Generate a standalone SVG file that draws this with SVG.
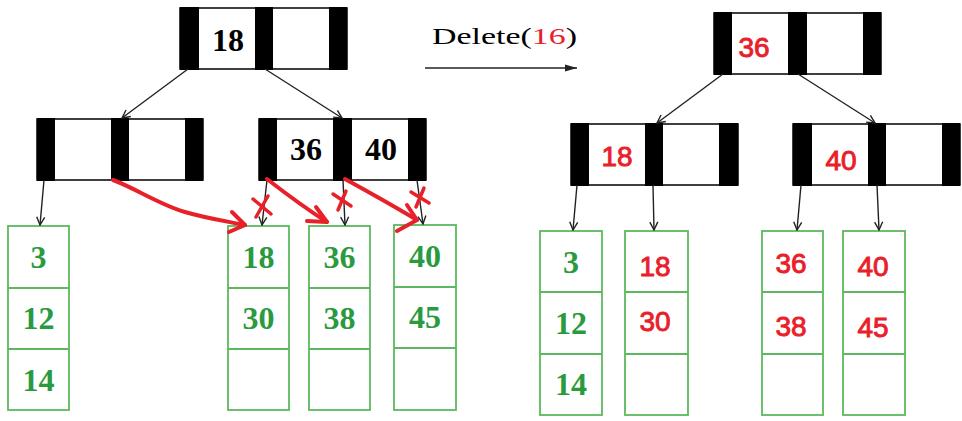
<svg xmlns="http://www.w3.org/2000/svg" width="962" height="421" viewBox="0 0 962 421">
<defs>
<style>
.nbox{fill:#fff;stroke:#000;stroke-width:1.5}
.bar{fill:#000}
.leaf{fill:#fff;stroke:#5cb85c;stroke-width:1.8}
.sep{stroke:#5cb85c;stroke-width:1.8}
.kb{font-family:"Liberation Serif","Times New Roman",serif;font-weight:bold;font-size:32px;fill:#000;text-anchor:middle}
.kg{font-family:"Liberation Serif","Times New Roman",serif;font-weight:bold;font-size:32px;fill:#2a9a40;text-anchor:middle}
.kr{font-family:"Liberation Sans",Arial,sans-serif;font-size:28px;fill:#e8202a;stroke:#e8202a;stroke-width:0.9;text-anchor:middle}
.edge{stroke:#222;stroke-width:1.4;fill:none}
.red{stroke:#e8202a;stroke-width:4;fill:none;stroke-linecap:round;stroke-linejoin:round}
.redx{stroke:#e8202a;stroke-width:3.5;fill:none;stroke-linecap:round}
.lbl{font-family:"Liberation Serif","Times New Roman",serif;font-size:23px;fill:#000}
</style>
<marker id="ah" markerWidth="10" markerHeight="10" refX="9" refY="5" orient="auto" markerUnits="userSpaceOnUse">
<path d="M1,1 L9,5 L1,9" fill="none" stroke="#222" stroke-width="1.4"/>
</marker>
<marker id="ahl" markerWidth="14" markerHeight="10" refX="13" refY="5" orient="auto" markerUnits="userSpaceOnUse">
<path d="M1,1.5 L13,5 L1,8.5 Z" fill="#222"/>
</marker>
</defs>

<!-- LEFT TREE -->
<g id="L-root">
<rect class="nbox" x="180" y="8" width="167" height="61"/>
<rect class="bar" x="180" y="7" width="19" height="63"/>
<rect class="bar" x="255" y="7" width="18" height="63"/>
<rect class="bar" x="329" y="7" width="18" height="63"/>
<text class="kb" x="228" y="51">18</text>
</g>
<g id="L-mid-left">
<rect class="nbox" x="37" y="119" width="166" height="61"/>
<rect class="bar" x="37" y="118" width="18" height="63"/>
<rect class="bar" x="111" y="118" width="18" height="63"/>
<rect class="bar" x="185" y="118" width="18" height="63"/>
</g>
<g id="L-mid-right">
<rect class="nbox" x="259" y="119" width="167" height="61"/>
<rect class="bar" x="259" y="118" width="18" height="63"/>
<rect class="bar" x="333" y="118" width="19" height="63"/>
<rect class="bar" x="408" y="118" width="18" height="63"/>
<text class="kb" x="306" y="160">36</text>
<text class="kb" x="381" y="160">40</text>
</g>
<g id="L-leaf1">
<rect class="leaf" x="8" y="226" width="61" height="184"/>
<line class="sep" x1="8" y1="288" x2="69" y2="288"/>
<line class="sep" x1="8" y1="349" x2="69" y2="349"/>
<text class="kg" x="38.5" y="268">3</text>
<text class="kg" x="38.5" y="329">12</text>
<text class="kg" x="38.5" y="391">14</text>
</g>
<g id="L-leaf2">
<rect class="leaf" x="228" y="226" width="61" height="184"/>
<line class="sep" x1="228" y1="288" x2="289" y2="288"/>
<line class="sep" x1="228" y1="349" x2="289" y2="349"/>
<text class="kg" x="258.5" y="268">18</text>
<text class="kg" x="258.5" y="329">30</text>
</g>
<g id="L-leaf3">
<rect class="leaf" x="309" y="226" width="61" height="184"/>
<line class="sep" x1="309" y1="288" x2="370" y2="288"/>
<line class="sep" x1="309" y1="349" x2="370" y2="349"/>
<text class="kg" x="339.5" y="268">36</text>
<text class="kg" x="339.5" y="329">38</text>
</g>
<g id="L-leaf4">
<rect class="leaf" x="394" y="225" width="62" height="185"/>
<line class="sep" x1="394" y1="287" x2="456" y2="287"/>
<line class="sep" x1="394" y1="348" x2="456" y2="348"/>
<text class="kg" x="425" y="267">40</text>
<text class="kg" x="425" y="328">45</text>
</g>

<!-- ARROW LABEL -->
<g id="op">
<text class="lbl" x="432" y="44" textLength="145" lengthAdjust="spacingAndGlyphs">Delete(<tspan fill="#e8202a">16</tspan>)</text>
<line class="edge" x1="425" y1="68" x2="577" y2="68" marker-end="url(#ahl)"/>
</g>

<!-- RIGHT TREE -->
<g id="R-root">
<rect class="nbox" x="714" y="13" width="167" height="61"/>
<rect class="bar" x="714" y="12" width="18" height="63"/>
<rect class="bar" x="788" y="12" width="19" height="63"/>
<rect class="bar" x="863" y="12" width="18" height="63"/>
<text class="kr" x="754" y="57">36</text>
</g>
<g id="R-mid-left">
<rect class="nbox" x="571" y="124" width="167" height="61"/>
<rect class="bar" x="571" y="123" width="18" height="63"/>
<rect class="bar" x="645" y="123" width="18" height="63"/>
<rect class="bar" x="719" y="123" width="19" height="63"/>
<text class="kr" x="617" y="166">18</text>
</g>
<g id="R-mid-right">
<rect class="nbox" x="793" y="124" width="167" height="61"/>
<rect class="bar" x="793" y="123" width="19" height="63"/>
<rect class="bar" x="868" y="123" width="18" height="63"/>
<rect class="bar" x="942" y="123" width="18" height="63"/>
<text class="kr" x="841" y="170">40</text>
</g>
<g id="R-leaf1">
<rect class="leaf" x="540" y="231" width="62" height="184"/>
<line class="sep" x1="540" y1="292" x2="602" y2="292"/>
<line class="sep" x1="540" y1="354" x2="602" y2="354"/>
<text class="kg" x="571" y="273">3</text>
<text class="kg" x="571" y="334">12</text>
<text class="kg" x="571" y="395">14</text>
</g>
<g id="R-leaf2">
<rect class="leaf" x="625" y="231" width="63" height="184"/>
<line class="sep" x1="625" y1="292" x2="688" y2="292"/>
<line class="sep" x1="625" y1="354" x2="688" y2="354"/>
<text class="kr" x="655" y="276">18</text>
<text class="kr" x="655" y="331">30</text>
</g>
<g id="R-leaf3">
<rect class="leaf" x="762" y="231" width="61" height="184"/>
<line class="sep" x1="762" y1="292" x2="823" y2="292"/>
<line class="sep" x1="762" y1="354" x2="823" y2="354"/>
<text class="kr" x="791" y="273">36</text>
<text class="kr" x="791" y="336">38</text>
</g>
<g id="R-leaf4">
<rect class="leaf" x="843" y="231" width="62" height="184"/>
<line class="sep" x1="843" y1="292" x2="905" y2="292"/>
<line class="sep" x1="843" y1="354" x2="905" y2="354"/>
<text class="kr" x="873" y="276">40</text>
<text class="kr" x="873" y="337">45</text>
</g>

<!-- CONNECTORS -->
<g id="connectors">
<line class="edge" x1="188" y1="69" x2="122" y2="118" marker-end="url(#ah)"/>
<line class="edge" x1="265" y1="69" x2="342" y2="118" marker-end="url(#ah)"/>
<line class="edge" x1="44" y1="180" x2="40" y2="225" marker-end="url(#ah)"/>
<line class="edge" x1="267" y1="180" x2="262" y2="225" marker-end="url(#ah)"/>
<line class="edge" x1="343" y1="180" x2="345" y2="225" marker-end="url(#ah)"/>
<line class="edge" x1="417" y1="180" x2="423" y2="224" marker-end="url(#ah)"/>

<line class="edge" x1="723" y1="74" x2="657" y2="123" marker-end="url(#ah)"/>
<line class="edge" x1="798" y1="74" x2="875" y2="123" marker-end="url(#ah)"/>
<line class="edge" x1="577" y1="185" x2="573" y2="230" marker-end="url(#ah)"/>
<line class="edge" x1="653" y1="185" x2="654" y2="230" marker-end="url(#ah)"/>
<line class="edge" x1="801" y1="185" x2="797" y2="230" marker-end="url(#ah)"/>
<line class="edge" x1="877" y1="185" x2="879" y2="230" marker-end="url(#ah)"/>

<!-- red annotations -->
<path class="red" d="M113,180 C135,188 160,205 185,212 C205,218 225,221 245,225"/>
<path class="red" d="M232,212 L245,225 L229,232"/>
<path class="red" d="M267,179 C285,193 305,208 327,222"/>
<path class="red" d="M316,207 L327,222 L307,221"/>
<path class="red" d="M345,179 C365,190 392,205 417,220"/>
<path class="red" d="M407,205 L417,220 L397,231"/>
<path class="redx" d="M253,199 L271,214 M268,196 L256,217"/>
<path class="redx" d="M333,194 L351,206 M346,191 L338,210"/>
<path class="redx" d="M411,192 L429,203 M424,188 L416,207"/>
</g>
</svg>
